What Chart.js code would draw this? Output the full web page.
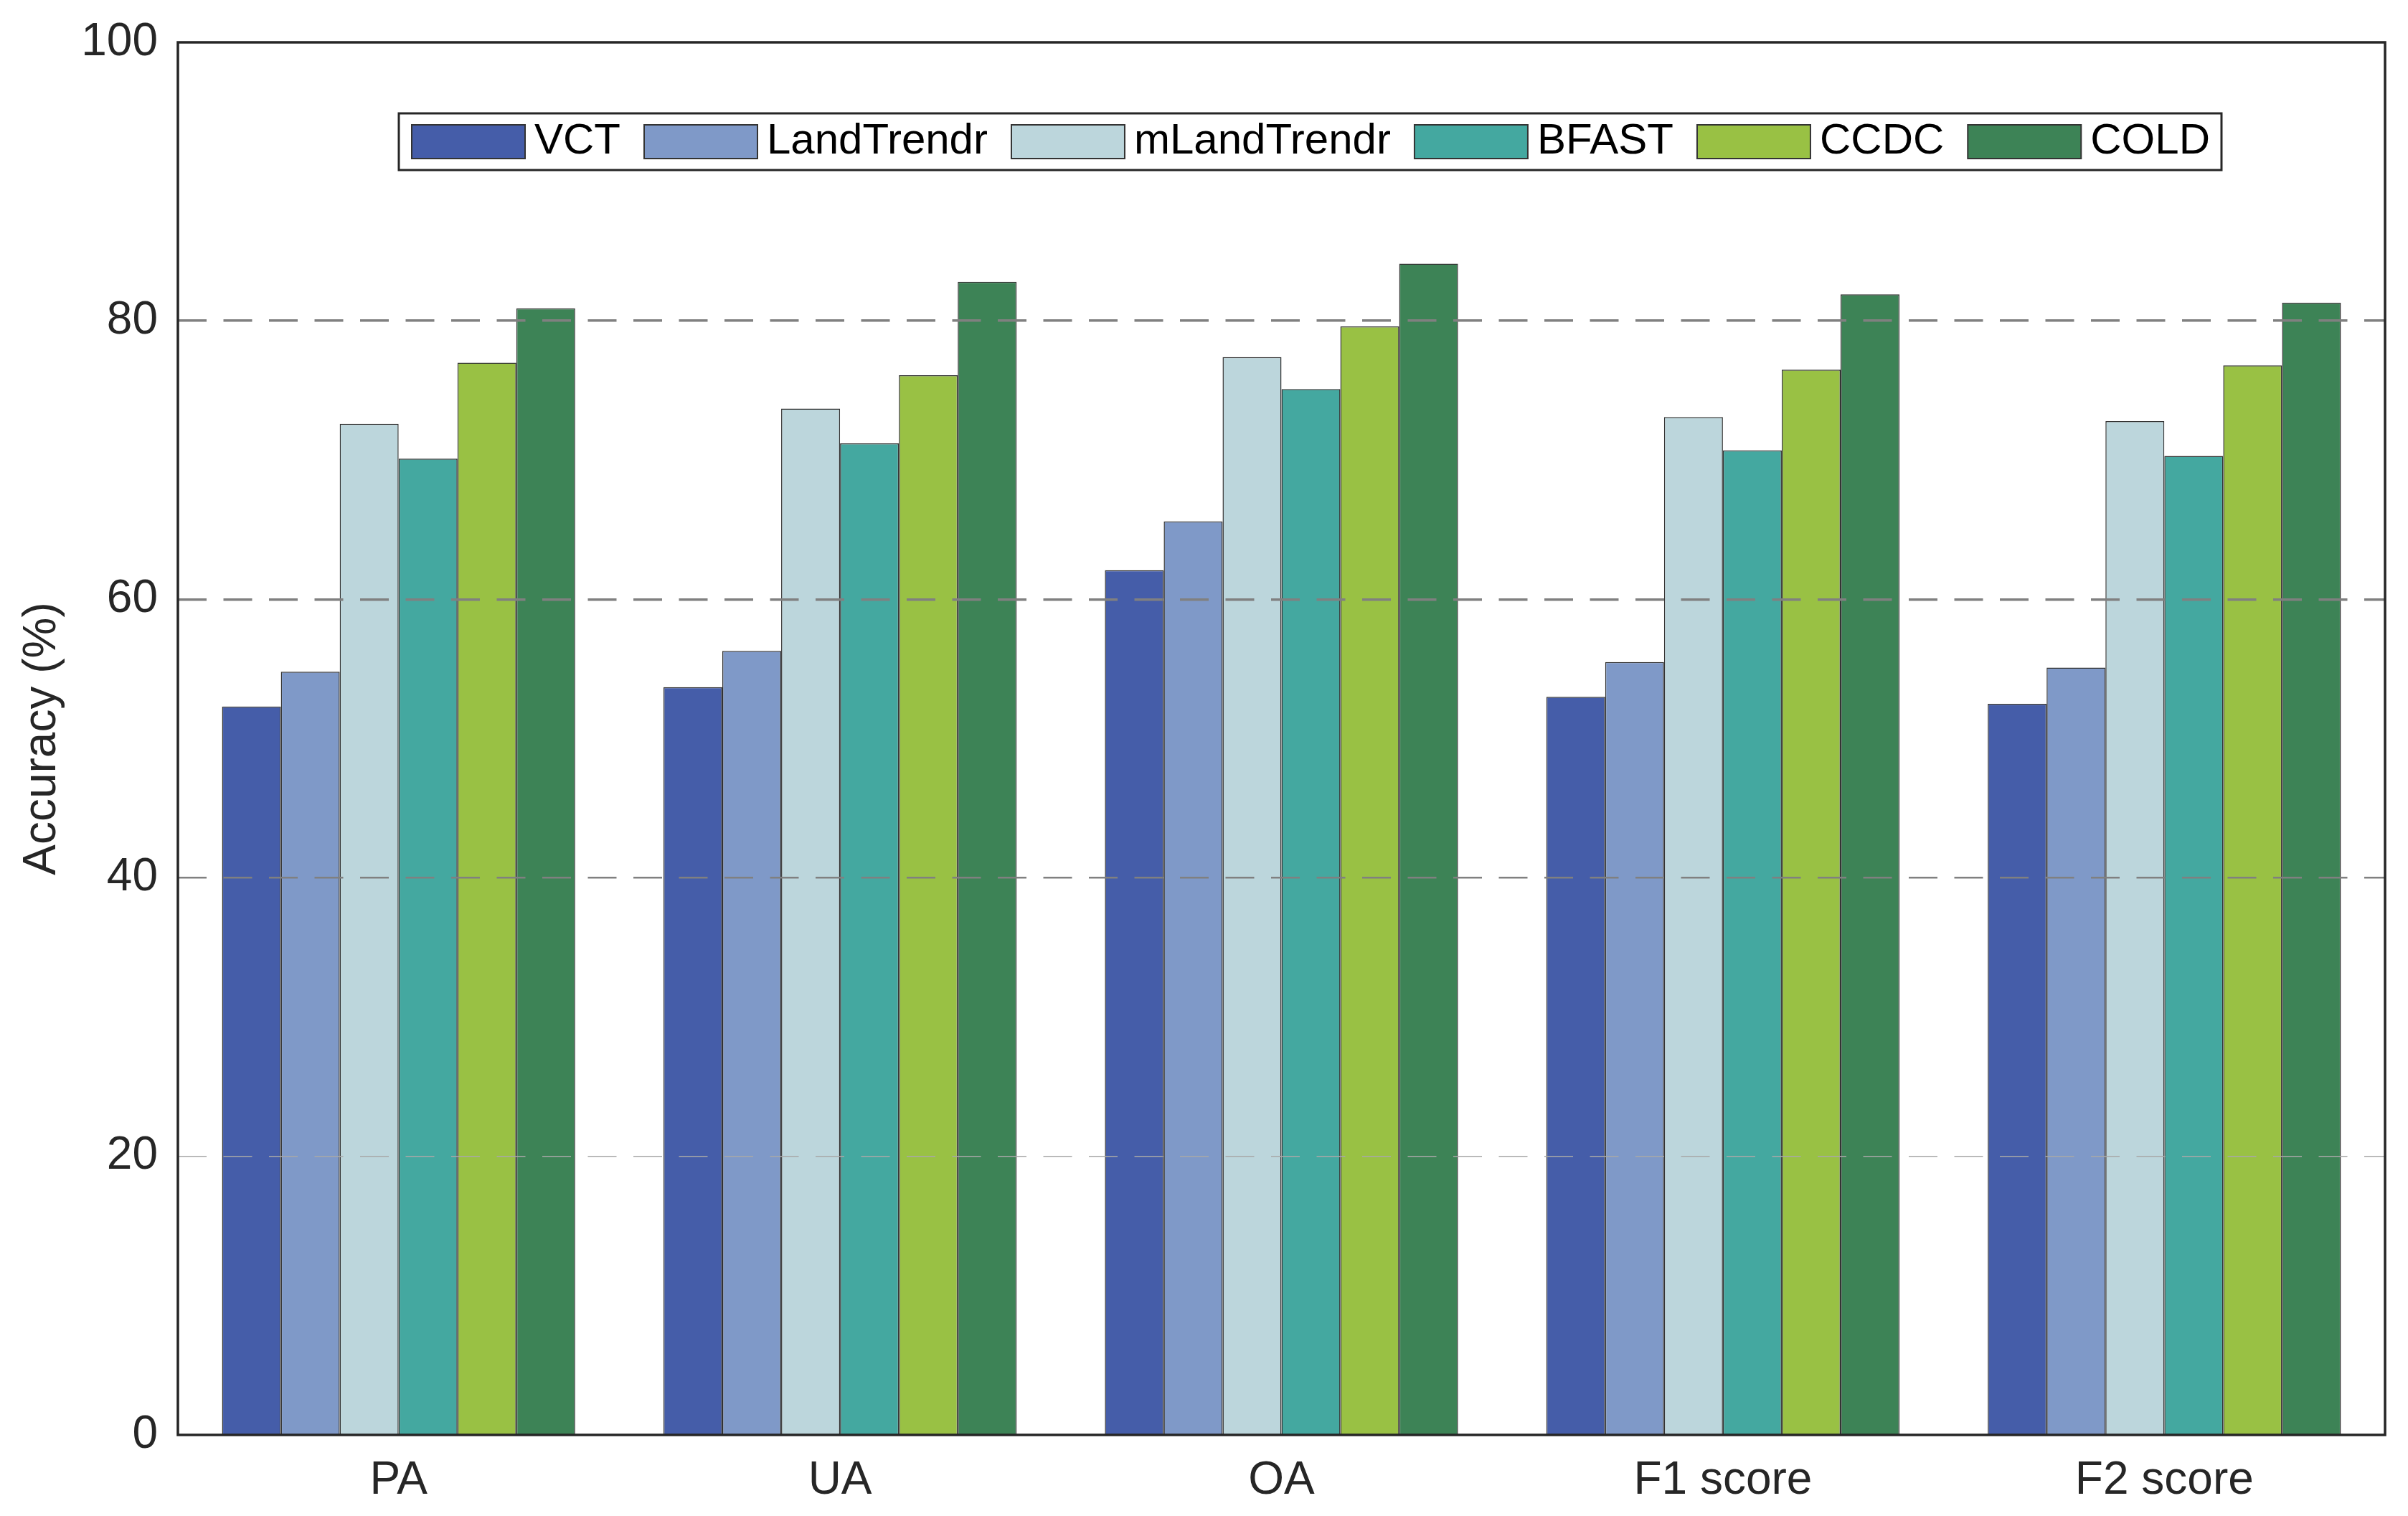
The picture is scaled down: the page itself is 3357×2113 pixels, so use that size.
<!DOCTYPE html>
<html>
<head>
<meta charset="utf-8">
<style>
  html, body { margin: 0; padding: 0; background: #ffffff; overflow: hidden; }
  #wrap { width: 3357px; height: 2113px; }
</style>
<script src="https://cdn.jsdelivr.net/npm/chart.js@4.4.1/dist/chart.umd.min.js"></script>
</head>
<body>
<div id="wrap"><canvas id="c" width="3357" height="2113"></canvas></div>
<script>
const categories = ['PA', 'UA', 'OA', 'F1 score', 'F2 score'];
const methods = ['VCT', 'LandTrendr', 'mLandTrendr', 'BFAST', 'CCDC', 'COLD'];
const vct         = [52.3, 53.7, 62.1, 53.0, 52.5];
const landTrendr  = [54.8, 56.3, 65.6, 55.5, 55.1];
const mLandTrendr = [72.6, 73.7, 77.4, 73.1, 72.8];
const bfast       = [70.1, 71.2, 75.1, 70.7, 70.3];
const ccdc        = [77.0, 76.1, 79.6, 76.5, 76.8];
const cold        = [80.9, 82.8, 84.1, 81.9, 81.3];
const yTickValues = [0, 20, 40, 60, 80, 100];
const colors = ['#455DA9', '#7F99C8', '#BCD6DC', '#44A8A0', '#99C144', '#3D8356'];
const seriesValues = [vct, landTrendr, mLandTrendr, bfast, ccdc, cold];

const FONT = "'Liberation Sans', Arial, Helvetica, sans-serif";
const AXIS_COLOR = '#262626';

const framePlugin = {
  id: 'frame',
  afterDraw(chart) {
    const {ctx, chartArea: a} = chart;
    ctx.save();
    ctx.strokeStyle = AXIS_COLOR;
    ctx.lineWidth = 3.5;
    ctx.strokeRect(a.left, a.top, a.right - a.left, a.bottom - a.top);
    ctx.restore();
  }
};

const boxLegendPlugin = {
  id: 'boxLegend',
  afterDraw(chart) {
    const {ctx, chartArea: a} = chart;
    const fontSize = 60;
    const swW = 158, swH = 47, swGap = 13, itemGap = 33, padL = 18, padR = 16, boxH = 79;
    ctx.save();
    ctx.font = fontSize + 'px ' + FONT;
    const ds = chart.data.datasets;
    const widths = ds.map(d => ctx.measureText(d.label).width);
    let total = padL + padR;
    widths.forEach((w, i) => { total += swW + swGap + w + (i < widths.length - 1 ? itemGap : 0); });
    const boxLeft = a.left + 308;
    const boxTop = a.top + 99;
    ctx.fillStyle = '#ffffff';
    ctx.fillRect(boxLeft, boxTop, total, boxH);
    ctx.strokeStyle = AXIS_COLOR;
    ctx.lineWidth = 3;
    ctx.strokeRect(boxLeft, boxTop, total, boxH);
    let x = boxLeft + padL;
    const swTop = boxTop + (boxH - swH) / 2;
    ds.forEach((d, i) => {
      ctx.fillStyle = d.backgroundColor;
      ctx.fillRect(x, swTop, swW, swH);
      ctx.strokeStyle = '#333333';
      ctx.lineWidth = 2;
      ctx.strokeRect(x, swTop, swW, swH);
      x += swW + swGap;
      ctx.fillStyle = '#000000';
      ctx.textAlign = 'left';
      ctx.textBaseline = 'middle';
      ctx.fillText(d.label, x, swTop + swH / 2);
      x += widths[i] + itemGap;
    });
    ctx.restore();
  }
};

function gridWidth(v) {
  if (v === 0 || v === 100) return 0;
  if (v === 20) return 1.5;
  if (v === 40) return 2.5;
  return 3.5;
}
function gridColor(v) {
  if (v === 0 || v === 100) return 'rgba(0,0,0,0)';
  if (v === 20) return '#a8a8a8';
  return '#808080';
}

new Chart(document.getElementById('c'), {
  type: 'bar',
  data: {
    labels: categories,
    datasets: methods.map((m, i) => ({
      label: m,
      data: seriesValues[i],
      backgroundColor: colors[i],
      borderColor: '#333333',
      borderWidth: 1.5,
      categoryPercentage: 0.8,
      barPercentage: 1.0
    }))
  },
  options: {
    responsive: false,
    devicePixelRatio: 1,
    animation: false,
    layout: { padding: { left: 0, top: 59, right: 32, bottom: 0 } },
    plugins: {
      legend: { display: false },
      tooltip: { enabled: false }
    },
    scales: {
      x: {
        grid: { display: false, drawTicks: false },
        border: { display: false },
        ticks: {
          color: AXIS_COLOR,
          padding: 26,
          font: { family: FONT, size: 64 }
        },
        afterFit(scale) { scale.height = 113; scale.paddingLeft = 0; scale.paddingRight = 0; }
      },
      y: {
        min: 0,
        max: 100,
        afterBuildTicks(scale) { scale.ticks = yTickValues.map(v => ({ value: v })); },
        grid: {
          z: 1,
          drawTicks: false,
          color: ctx => gridColor(ctx.tick ? ctx.tick.value : 0),
          lineWidth: ctx => gridWidth(ctx.tick ? ctx.tick.value : 0)
        },
        border: { display: false, dash: [40, 23.5] },
        ticks: {
          color: AXIS_COLOR,
          padding: 28,
          font: { family: FONT, size: 64 }
        },
        title: {
          display: true,
          text: 'Accuracy (%)',
          color: AXIS_COLOR,
          padding: { top: 21, bottom: 0 },
          font: { family: FONT, size: 64 }
        },
        afterFit(scale) { scale.width = 248; scale.paddingTop = 0; scale.paddingBottom = 0; }
      }
    }
  },
  plugins: [framePlugin, boxLegendPlugin]
});
</script>
</body>
</html>
